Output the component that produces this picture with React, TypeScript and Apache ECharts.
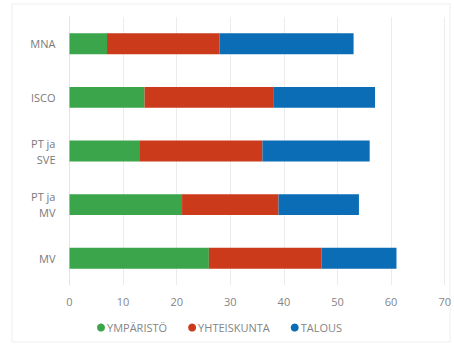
import React, { useEffect, useRef } from "react";
import * as echarts from "echarts";

const categories = ["MV", "PT ja\nMV", "PT ja\nSVE", "ISCO", "MNA"];
const seriesNames = ["YMPÄRISTÖ", "YHTEISKUNTA", "TALOUS"];
const ymparisto = [26, 21, 13, 14, 7];
const yhteiskunta = [21, 18, 23, 24, 21];
const talous = [14, 15, 20, 19, 25];
const colors = ["#3aa54b", "#cc3a1c", "#0b6db6"];

export default function App() {
  const ref = useRef<HTMLDivElement>(null);
  useEffect(() => {
    if (!ref.current) return;
    const chart = echarts.init(ref.current, undefined, { renderer: "svg" });
    const font = "'Open Sans', 'Liberation Sans', sans-serif";
    const data = [ymparisto, yhteiskunta, talous];
    chart.setOption({
      animation: false,
      backgroundColor: "#ffffff",
      color: colors,
      graphic: [
        {
          type: "rect",
          shape: { x: 12, y: 4, width: 438, height: 338 },
          style: { fill: "none", stroke: "#eeeeee", lineWidth: 1 },
          silent: true,
        },
      ],
      grid: { left: 69.5, right: 8, top: 17, bottom: 59, containLabel: false },
      xAxis: {
        type: "value",
        min: 0,
        max: 70,
        interval: 10,
        axisLine: { show: false },
        axisTick: { show: false },
        splitLine: { show: true, lineStyle: { color: "#ececec", width: 1 } },
        axisLabel: { color: "#858585", fontSize: 11, fontFamily: font, margin: 11 },
      },
      yAxis: {
        type: "category",
        data: categories,
        axisLine: { show: true, lineStyle: { color: "#e4e4e4" } },
        axisTick: { show: false },
        axisLabel: { color: "#7a7a7a", fontSize: 11, fontFamily: font, margin: 14, lineHeight: 16 },
      },
      legend: {
        bottom: 6,
        left: 92,
        icon: "circle",
        itemWidth: 8,
        itemHeight: 8,
        itemGap: 21,
        textStyle: { color: "#858585", fontSize: 11, fontFamily: font, padding: [0, 0, 0, -3] },
        data: seriesNames,
      },
      series: seriesNames.map((name, i) => ({
        name,
        type: "bar",
        stack: "total",
        data: data[i],
        barCategoryGap: "61%",
        itemStyle: { color: colors[i] },
      })),
    });
    return () => chart.dispose();
  }, []);
  return <div ref={ref} style={{ width: 454, height: 344, position: "absolute", left: 0, top: 0 }} />;
}
